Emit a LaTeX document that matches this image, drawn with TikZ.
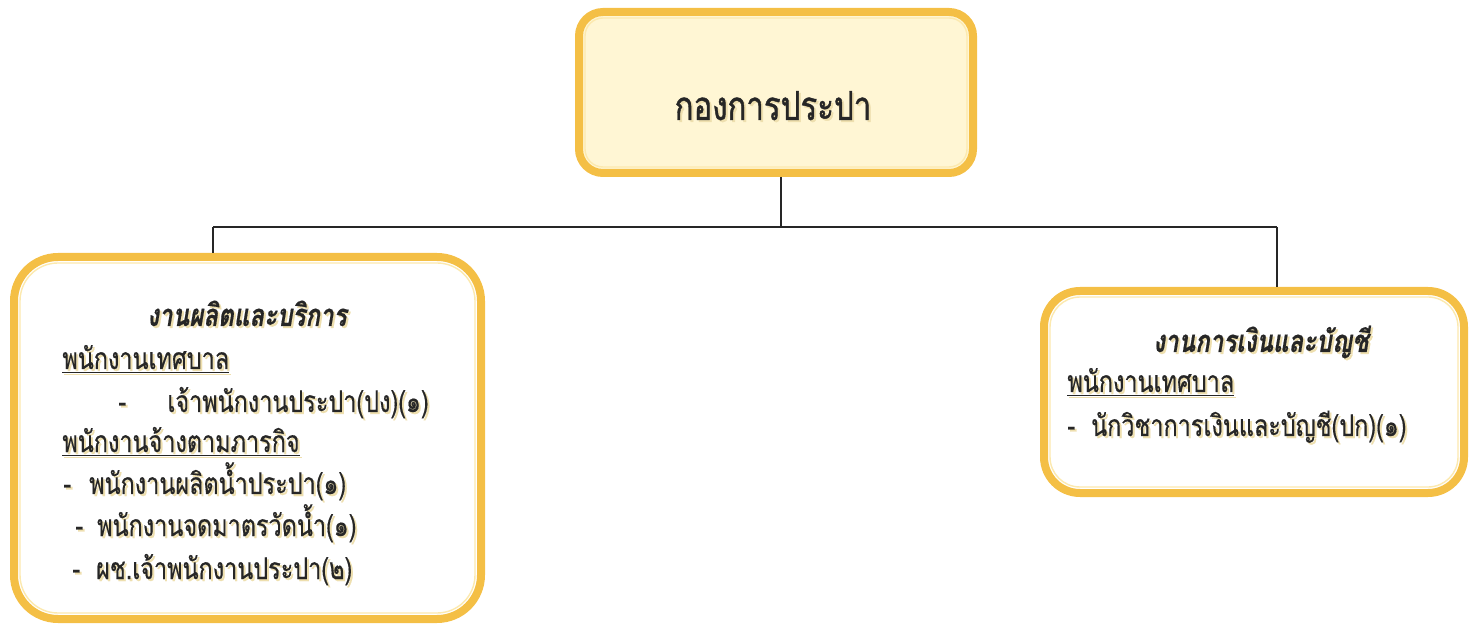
\documentclass[tikz,border=0pt]{standalone}
\usepackage{fontspec}
\newfontfamily\thai[Script=Thai,FakeStretch=0.78,FakeBold=0.4]{Loma}
\newfontfamily\thaitop[Script=Thai,FakeStretch=0.78,FakeBold=1]{Loma}
\usetikzlibrary{calc}
\definecolor{bord}{HTML}{F4BF45}
\definecolor{bordlight}{HTML}{FCE9AE}
\definecolor{topfill}{HTML}{FFF6D4}
\definecolor{shadowc}{HTML}{EEDFAE}
\definecolor{ink}{HTML}{262626}
\tikzset{
  boxouter/.style={draw=bord, line width=4pt, inner sep=0pt},
  boxinner/.style={draw=bordlight, line width=0.7pt, inner sep=0pt},
  conn/.style={draw=ink, line width=1pt},
  toptext/.style={font=\thaitop\fontsize{20}{24}\selectfont, text=ink, inner sep=0pt},
  titletext/.style={font=\thai\bfseries\itshape\fontsize{15.5}{19}\selectfont, text=ink, inner sep=0pt},
  bodytext/.style={font=\thai\fontsize{15}{18}\selectfont, text=ink, inner sep=0pt},
}
\newcommand\tx[5]{%
  \node[#4, text=shadowc, anchor=#3] (#1s) at ($(#2)+(2,2)$) {#5};
  \node[#4, anchor=#3] (#1) at (#2) {#5};}
\begin{document}
\begin{tikzpicture}[x=0.5pt,y=-0.5pt]
\useasboundingbox (0,0) rectangle (1472,630);
% boxes
\node[boxouter, fill=topfill, minimum width=197pt, minimum height=80.5pt, rounded corners=12pt] (top) at (776,92.5) {};
\node[boxinner, minimum width=191pt, minimum height=74.5pt, rounded corners=9pt] (topin) at (776,92.5) {};
\node[boxouter, fill=white, minimum width=233.5pt, minimum height=181pt, rounded corners=22pt] (left) at (247.5,438) {};
\node[boxinner, minimum width=227.5pt, minimum height=175pt, rounded corners=19pt] (leftin) at (247.5,438) {};
\node[boxouter, fill=white, minimum width=210pt, minimum height=101pt, rounded corners=18pt] (right) at (1254,392) {};
\node[boxinner, minimum width=204pt, minimum height=95pt, rounded corners=15pt] (rightin) at (1254,392) {};
% connectors
\coordinate (bus) at (781,227);
\coordinate (busL) at (213,227);
\coordinate (busR) at (1277,227);
\draw[conn] (top.south -| bus) -- (bus);
\draw[conn] (busL) -- (busR);
\draw[conn] (busL) -- (busL |- left.north);
\draw[conn] (busR) -- (busR |- right.north);
% texts
\tx{ttop}{773,120}{base}{toptext}{กองการประปา}
\tx{lt}{247,326}{base}{titletext}{งานผลิตและบริการ}
\tx{l1}{62,369}{base west}{bodytext}{\underline{พนักงานเทศบาล}}
\tx{l2d}{118,412}{base west}{bodytext}{-}
\tx{l2}{167,412}{base west}{bodytext}{เจ้าพนักงานประปา(ปง)(๑)}
\tx{l3}{62,452}{base west}{bodytext}{\underline{พนักงานจ้างตามภารกิจ}}
\tx{l4}{63,494}{base west}{bodytext}{-\hspace{9pt}พนักงานผลิตน้ำประปา(๑)}
\tx{l5}{75,536}{base west}{bodytext}{-\hspace{7pt}พนักงานจดมาตรวัดน้ำ(๑)}
\tx{l6}{72,579}{base west}{bodytext}{-\hspace{8pt}ผช.เจ้าพนักงานประปา(๒)}
\tx{rt}{1261,352}{base}{titletext}{งานการเงินและบัญชี}
\tx{r1}{1067,392}{base west}{bodytext}{\underline{พนักงานเทศบาล}}
\tx{r2}{1067,436}{base west}{bodytext}{-\hspace{8pt}นักวิชาการเงินและบัญชี(ปก)(๑)}
\end{tikzpicture}
\end{document}
